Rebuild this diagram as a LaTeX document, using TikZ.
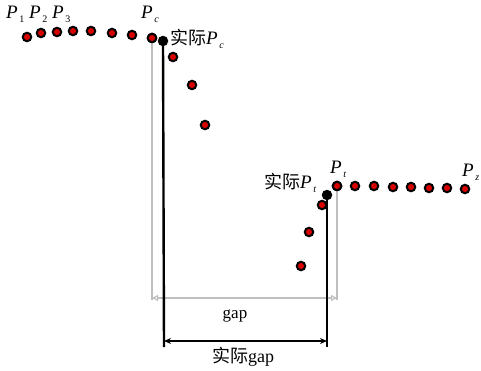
\documentclass[tikz,border=0pt]{standalone}
\usepackage{fontspec}
\setmainfont{Liberation Serif}
\newfontfamily\cjk{Noto Sans CJK SC}
\usetikzlibrary{arrows.meta}
\newcommand\Pl[1]{{\fontsize{19}{19}\selectfont\textit{P}}\raisebox{-0.55ex}{\fontsize{10}{10}\selectfont\kern0.15em #1}}
\begin{document}
\begin{tikzpicture}[x=1pt,y=-1pt,
  pt/.style={circle,draw=black,fill=red!85!black,line width=2pt,minimum size=8.5pt,inner sep=0pt},
  bpt/.style={circle,fill=black,minimum size=10.5pt,inner sep=0pt},
  lbl/.style={anchor=base west,inner sep=0pt,font=\fontsize{18}{18}\selectfont},
  grayln/.style={draw=black!25,line width=2pt},
  blackln/.style={draw=black,line width=2.4pt}]
\useasboundingbox (0,0) rectangle (481,370);
% top row
\node[pt] (a1) at (27,37) {};
\node[pt] (a2) at (41,33) {};
\node[pt] (a3) at (57,32) {};
\node[pt] (a4) at (73,31) {};
\node[pt] (a5) at (91,31) {};
\node[pt] (a6) at (112,33) {};
\node[pt] (a7) at (132,35) {};
\node[pt] (pc) at (152,38) {};
% descending
\node[pt] (d1) at (173,57) {};
\node[pt] (d2) at (192,85) {};
\node[pt] (d3) at (205,125) {};
\node[pt] (d4) at (301,266) {};
\node[pt] (d5) at (309,232) {};
\node[pt] (d6) at (322,205) {};
% lower row
\node[pt] (pt) at (337,186) {};
\node[pt] (b2) at (355,186) {};
\node[pt] (b3) at (374,186) {};
\node[pt] (b4) at (393,187) {};
\node[pt] (b5) at (411,187) {};
\node[pt] (b6) at (429,188) {};
\node[pt] (b7) at (447,188) {};
\node[pt] (pz) at (465,189) {};
% coordinates for dimension lines
\coordinate (gl) at (152,300);
\coordinate (gr) at (337,300);
\coordinate (gla) at (152,298);
\coordinate (gra) at (337,298);
\coordinate (bl) at (164,347);
\coordinate (br) at (327,347);
\coordinate (bla) at (164,341);
\coordinate (bra) at (327,341);
% gray lines
\draw[grayln] (pc.center) -- (gl);
\draw[grayln] (pt.center) -- (gr);
\draw[draw=black!25,line width=1.2pt,{Triangle[open,length=6pt,width=6pt]}-{Triangle[open,length=6pt,width=6pt]}] (gla) -- (gra);
% actual points and black lines
\node[bpt] (apc) at (163,41) {};
\node[bpt] (apt) at (327,195) {};
\draw[blackln] (apc.center) -- (bl);
\draw[blackln] (apt.center) -- (br);
\draw[line width=2pt,{Stealth[length=7pt,width=6pt]}-{Stealth[length=7pt,width=6pt]}] (bla) -- (bra);
\node[pt] at (pc) {};
\node[pt] at (pt) {};
% labels
\node[lbl] (l1) at (6,18) {\Pl{1}};
\node[lbl] (l2) at (29,18) {\Pl{2}};
\node[lbl] (l3) at (52,18) {\Pl{3}};
\node[lbl] (lc) at (141,18) {\Pl{\textit{c}}};
\node[lbl] (lac) at (170,44) {{\cjk 实际}\Pl{\textit{c}}};
\node[lbl] (lat) at (264,188) {{\cjk 实际}\Pl{\textit{t}}};
\node[lbl] (lt) at (330,173) {\Pl{\textit{t}}};
\node[lbl] (lz) at (462,176) {\Pl{\textit{z}}};
\node[anchor=base,inner sep=0pt,font=\fontsize{17}{17}\selectfont] (lg) at (235,318) {gap};
\node[anchor=base,inner sep=0pt,font=\fontsize{18}{18}\selectfont] (lag) at (243,362) {{\cjk 实际}gap};
\end{tikzpicture}
\end{document}
